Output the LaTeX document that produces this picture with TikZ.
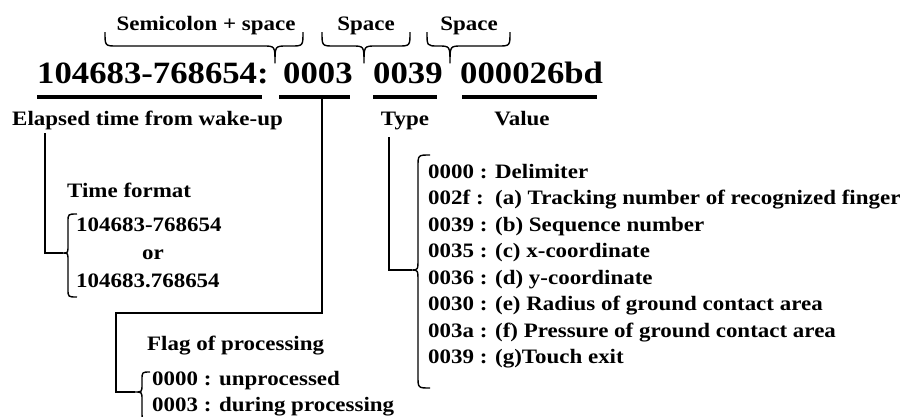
\documentclass[tikz,border=0pt]{standalone}
\usepackage{fontspec}
\setmainfont{Liberation Serif}[FakeStretch=1.12]
\begin{document}
\begin{tikzpicture}[x=1pt,y=-1pt,
  lbl/.style={inner sep=0pt, font=\fontsize{20.5}{24}\selectfont\bfseries},
  big/.style={inner sep=0pt, font=\fontsize{31}{36}\selectfont\bfseries},
  conn/.style={line width=1.4pt},
  brc/.style={line width=1.4pt, line join=round},
  uline/.style={line width=3.8pt}]
\useasboundingbox (0,0) rectangle (908,416);
% main line
\node[big, anchor=base west] (n1) at (37,83) {104683-768654:};
\node[big, anchor=base west] (n2) at (283,83) {0003};
\node[big, anchor=base west] (n3) at (373,83) {0039};
\node[big, anchor=base west] (n4) at (460,83) {000026bd};
\draw[uline] (37,97) -- (262,97);
\draw[uline] (279,97) -- (350,97);
\draw[uline] (373,97) -- (437,97);
\draw[uline] (462,97) -- (597,97);
% top labels
\node[lbl, anchor=base] (s1) at (206,30) {Semicolon + space};
\node[lbl, anchor=base] (s2) at (366,30) {Space};
\node[lbl, anchor=base] (s3) at (469,30) {Space};
% top braces
\draw[brc] (105,32) .. controls (105,46) .. (117,46) -- (263,46) .. controls (275,46) .. (275,63)
  .. controls (275,46) .. (287,46) -- (291,46) .. controls (303,46) .. (303,32);
\draw[brc] (322,32) .. controls (322,46) .. (334,46) -- (352,46) .. controls (364,46) .. (364,63)
  .. controls (364,46) .. (376,46) -- (398,46) .. controls (410,46) .. (410,32);
\draw[brc] (427,32) .. controls (427,46) .. (438,46) .. controls (450,46) .. (450,63)
  .. controls (450,46) .. (462,46) -- (498,46) .. controls (510,46) .. (510,32);
% labels under
\node[lbl, anchor=base west] (el) at (12,125) {Elapsed time from wake-up};
\node[lbl, anchor=base] (ty) at (405,125) {Type};
\node[lbl, anchor=base] (va) at (522,125) {Value};
% time format
\node[lbl, anchor=base west] (tf) at (67,197) {Time format};
\node[lbl, anchor=base west] (tf1) at (76,231) {104683-768654};
\node[lbl, anchor=base] (tfor) at (153,259) {or};
\node[lbl, anchor=base west] (tf2) at (76,287) {104683.768654};
\coordinate (ttip) at (63,253);
\draw[brc] (77,214) .. controls (68,214) .. (68,222) -- (68,245) .. controls (68,253) .. (ttip)
  .. controls (68,253) .. (68,261) -- (68,289) .. controls (68,297) .. (77,297);
\coordinate (e0) at (45,133);
\draw[conn] (e0) |- (ttip);
% flag
\node[lbl, anchor=base west] (fl) at (147,350) {Flag of processing};
\node[lbl, anchor=base west] (fl1) at (152,385) {0000 : unprocessed};
\node[lbl, anchor=base west] (fl2) at (152,411) {0003 : during processing};
\coordinate (ftip) at (135,392);
\draw[brc] (150,372) .. controls (142,372) .. (142,380) -- (142,384) .. controls (142,392) .. (ftip)
  .. controls (142,392) .. (142,400) -- (142,412) .. controls (142,420) .. (150,420);
\coordinate (f0) at (322,99);
\draw[conn] (f0) |- (116,313) |- (ftip);
% type
\coordinate (ytip) at (412,270);
\draw[brc] (430,155) .. controls (418,155) .. (418,167) -- (418,258) .. controls (418,270) .. (ytip)
  .. controls (418,270) .. (418,282) -- (418,376) .. controls (418,388) .. (430,388);
\coordinate (y0) at (389,137);
\draw[conn] (y0) |- (ytip);
\node[lbl, anchor=base west] (t1) at (428,178) {0000 : Delimiter};
\node[lbl, anchor=base west] (t2) at (428,204.5) {002f :\ \ (a) Tracking number of recognized finger};
\node[lbl, anchor=base west] (t3) at (428,231) {0039 : (b) Sequence number};
\node[lbl, anchor=base west] (t4) at (428,257.5) {0035 : (c) x-coordinate};
\node[lbl, anchor=base west] (t5) at (428,284) {0036 : (d) y-coordinate};
\node[lbl, anchor=base west] (t6) at (428,310.5) {0030 : (e) Radius of ground contact area};
\node[lbl, anchor=base west] (t7) at (428,337) {003a : (f) Pressure of ground contact area};
\node[lbl, anchor=base west] (t8) at (428,363.5) {0039 : (g)Touch exit};
\end{tikzpicture}
\end{document}
